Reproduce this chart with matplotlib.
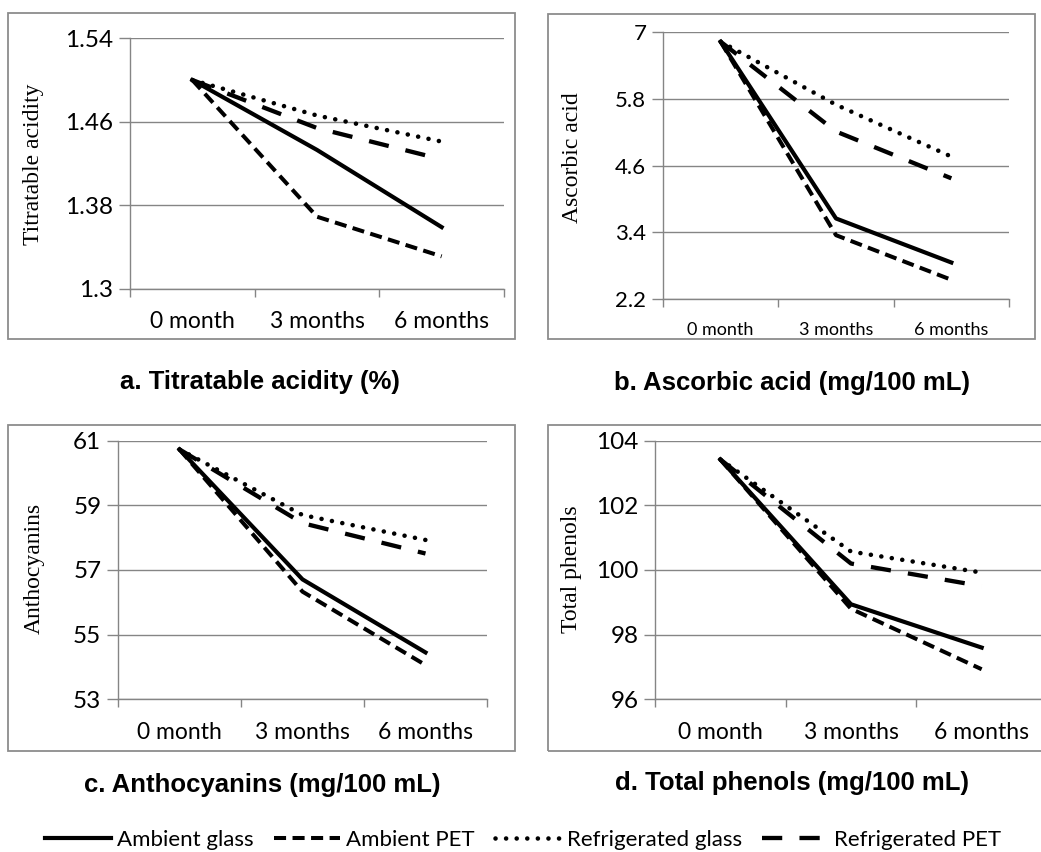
import matplotlib
matplotlib.use('Agg')
import matplotlib.pyplot as plt
from matplotlib.patches import Rectangle
from matplotlib.lines import Line2D

# storage time categories
months = ['0 month', '3 months', '6 months']
series_names = ['Ambient glass', 'Ambient PET', 'Refrigerated glass', 'Refrigerated PET']

# a. titratable acidity (%)
acid_amb_glass = [1.500, 1.433, 1.359]
acid_amb_pet = [1.500, 1.369, 1.331]
acid_ref_glass = [1.500, 1.466, 1.441]
acid_ref_pet = [1.500, 1.454, 1.424]
acid_ticks = [1.3, 1.38, 1.46, 1.54]

# b. ascorbic acid (mg/100 mL)
asc_amb_glass = [6.82, 3.65, 2.86]
asc_amb_pet = [6.82, 3.35, 2.55]
asc_ref_glass = [6.82, 5.69, 4.76]
asc_ref_pet = [6.82, 5.21, 4.37]
asc_ticks = [2.2, 3.4, 4.6, 5.8, 7]

# c. anthocyanins (mg/100 mL)
anth_amb_glass = [60.73, 56.71, 54.45]
anth_amb_pet = [60.73, 56.33, 54.06]
anth_ref_glass = [60.73, 58.70, 57.93]
anth_ref_pet = [60.73, 58.45, 57.51]
anth_ticks = [53, 55, 57, 59, 61]

# d. total phenols (mg/100 mL)
phen_amb_glass = [103.42, 98.94, 97.60]
phen_amb_pet = [103.42, 98.80, 96.93]
phen_ref_glass = [103.42, 100.57, 99.92]
phen_ref_pet = [103.42, 100.20, 99.50]
phen_ticks = [96, 98, 100, 102, 104]

W, H = 1041, 852
GRAY = '#858585'

# line styles for the four treatments (dash lengths scale with lw)
styles = [
    dict(color='black', lw=3.0, ls='-'),
    dict(color='black', lw=2.9, ls=(0, (3.0, 1.6))),
    dict(color='black', lw=3.3, ls=(0, (0.01, 2.3)), dash_capstyle='round'),
    dict(color='black', lw=3.1, ls=(0, (4.7, 4.0))),
]

fig = plt.figure(figsize=(W / 100, H / 100), dpi=100)


def fx(px):
    return px / W


def fy(py):
    return 1 - py / H


panels = [
    dict(ax=(130, 38.3, 504, 288.7), frame=(8, 13, 515, 339),
         data=[acid_amb_glass, acid_amb_pet, acid_ref_glass, acid_ref_pet],
         ticks=acid_ticks, tlabels=['1.3', '1.38', '1.46', '1.54'],
         ylabel='Titratable acidity', ylpos=(34, 164),
         caption='a. Titratable acidity (%)', cpos=(260, 382), yfs=17.5, xfs=16.5),
    dict(ax=(663, 31.7, 1009, 299.3), frame=(548, 14, 1035, 339),
         data=[asc_amb_glass, asc_amb_pet, asc_ref_glass, asc_ref_pet],
         ticks=asc_ticks, tlabels=['2.2', '3.4', '4.6', '5.8', '7'],
         ylabel='Ascorbic acid', ylpos=(572, 158),
         caption='b. Ascorbic acid (mg/100 mL)', cpos=(792, 383), yfs=16, xfs=13),
    dict(ax=(118, 440.7, 487, 699.3), frame=(8, 425, 515, 751),
         data=[anth_amb_glass, anth_amb_pet, anth_ref_glass, anth_ref_pet],
         ticks=anth_ticks, tlabels=[str(t) for t in anth_ticks],
         ylabel='Anthocyanins', ylpos=(34, 568),
         caption='c. Anthocyanins (mg/100 mL)', cpos=(262, 785), yfs=17.5, xfs=16.5),
    dict(ax=(655, 440.7, 1047, 699.3), frame=(548, 425, 1055, 751),
         data=[phen_amb_glass, phen_amb_pet, phen_ref_glass, phen_ref_pet],
         ticks=phen_ticks, tlabels=[str(t) for t in phen_ticks],
         ylabel='Total phenols', ylpos=(572, 569),
         caption='d. Total phenols (mg/100 mL)', cpos=(792, 783), yfs=17.5, xfs=16.5),
]

x = list(range(len(months)))

for p in panels:
    x0, y0, x1, y1 = p['frame']
    fig.patches.append(Rectangle((fx(x0), fy(y1)), fx(x1) - fx(x0), fy(y0) - fy(y1),
                                 transform=fig.transFigure, fill=False,
                                 edgecolor='#8c8c8c', lw=1.3))

    l, t, r, b = p['ax']
    ax = fig.add_axes([fx(l), fy(b), fx(r) - fx(l), fy(t) - fy(b)])
    for vals, st in zip(p['data'], styles):
        ax.plot(x, vals, **st)

    ax.set_xlim(-0.5, len(months) - 0.5)
    ax.set_ylim(p['ticks'][0], p['ticks'][-1])
    ax.set_yticks(p['ticks'])
    ax.set_yticklabels(p['tlabels'], family='Lato', fontsize=p['yfs'])
    ax.set_xticks(x)
    ax.set_xticklabels(months, family='Lato', fontsize=p['xfs'])
    ax.set_xticks([i - 0.5 for i in range(len(months) + 1)], minor=True)
    ax.tick_params(axis='x', which='major', length=0, pad=16)
    ax.tick_params(axis='x', which='minor', length=6, width=1, color=GRAY)
    ax.tick_params(axis='y', length=8, width=1, color=GRAY, pad=4)
    ax.grid(axis='y', color=GRAY, lw=1)
    ax.set_axisbelow(True)
    for s in ['top', 'right']:
        ax.spines[s].set_visible(False)
    for s in ['left', 'bottom']:
        ax.spines[s].set_color(GRAY)
        ax.spines[s].set_linewidth(1)
    ax.patch.set_alpha(0)

    fig.text(fx(p['ylpos'][0]), fy(p['ylpos'][1]), p['ylabel'], rotation=90,
             family='Liberation Serif', fontsize=17, ha='center', va='center')
    fig.text(fx(p['cpos'][0]), fy(p['cpos'][1]), p['caption'],
             family='Liberation Sans', weight='bold', fontsize=18.5,
             ha='center', va='center')

handles = [Line2D([], [], **st) for st in styles]
fig.legend(handles, series_names, loc='center', bbox_to_anchor=(fx(523), fy(840)),
           ncol=4, frameon=False, prop={'family': 'Lato', 'size': 16},
           handlelength=3.0, handletextpad=0.25, columnspacing=0.9,
           borderpad=0, borderaxespad=0)

fig.savefig('out.png', dpi=100, facecolor='white')
